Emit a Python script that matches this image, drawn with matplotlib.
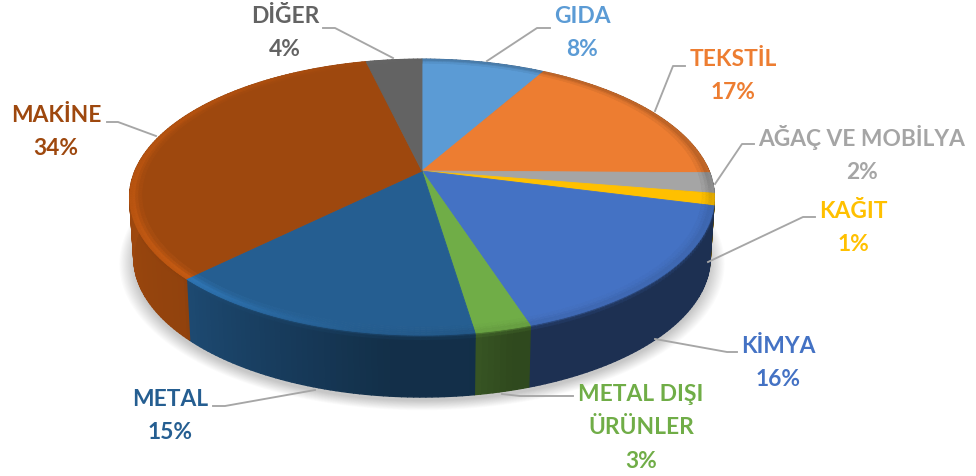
import numpy as np
import matplotlib
matplotlib.use("Agg")
import matplotlib.pyplot as plt
from matplotlib.collections import PolyCollection
from matplotlib.colors import to_rgb

categories = ["GIDA", "TEKSTİL", "AĞAÇ VE MOBİLYA", "KAĞIT", "KİMYA",
              "METAL DIŞI\nÜRÜNLER", "METAL", "MAKİNE", "DİĞER"]
shares = [8.2, 17.0, 2.4, 1.4, 16.0, 2.6, 15.0, 33.7, 3.7]
percent_labels = ["8%", "17%", "2%", "1%", "16%", "3%", "15%", "34%", "4%"]
colors = ["#5B9BD5", "#ED7D31", "#A5A5A5", "#FFC000", "#4472C4",
          "#70AD47", "#255E91", "#9E480E", "#636363"]
label_pos = [(582, 33), (733, 76), (862, 154), (853, 228), (778, 363),
             (641, 428), (170, 416), (56, 132), (285, 33)]
leaders = [
    [(487, 62), (537, 29), (550, 29)],
    [(655, 112), (673, 67), (685, 67)],
    [(715, 185), (742, 145), (754, 145)],
    [(708, 263), (803, 218), (815, 218)],
    [(655, 340), (727, 353), (737, 353)],
    [(502, 395), (520, 397), (573, 397)],
    [(315, 391), (225, 407), (213, 407)],
    [(156, 137), (118, 123), (107, 123)],
    [(393, 59), (335, 29), (323, 29)],
]

CX, CY, A, B, K, DEPTH = 422, 172, 133, 287, 0.19, 60


def top_xy(theta, r=1.0):
    x, y = r * np.sin(theta), r * np.cos(theta)
    s = 1 / (1 + K * y)
    return CX + B * x * s, CY - A * y * s


def wall_xy(theta, t):
    px, py = top_xy(theta)
    return CX + (px - CX) * (1 - 0.014 * t), py + DEPTH * t * (1 - 0.03 * np.cos(theta))


def scale(c, f):
    return tuple(np.clip(np.array(to_rgb(c)) * f, 0, 1))


def wall_shade(deg):
    return np.interp(deg, [90, 165, 172, 185, 225, 226, 250, 275, 300, 360],
                     [0.42, 0.42, 0.50, 0.50, 0.78, 0.92, 0.96, 1.02, 1.05, 1.05])


def rim_gain(deg):
    return np.interp(deg, [90, 105, 165, 190, 225, 270, 300, 360],
                     [0.80, 0.90, 0.92, 0.98, 1.24, 1.16, 1.14, 1.0])


fig = plt.figure(figsize=(9.76, 4.77), dpi=100, facecolor="white")
ax = fig.add_axes([0, 0, 1, 1])
ax.set_xlim(0, 976)
ax.set_ylim(477, 0)
ax.axis("off")

# soft shadow under the pie
grid = np.linspace(0, 2 * np.pi, 240)
sx, sy = wall_xy(grid, 1.0)
for g in np.linspace(1.05, 1.0, 14):
    ax.fill(CX + (sx - CX) * g, 212 + (sy - 212) * g + 4, color="black",
            alpha=0.016, lw=0, zorder=1)

edges = np.cumsum([0] + shares) / sum(shares) * 2 * np.pi
wall_polys, wall_cols, top_polys, top_cols = [], [], [], []
RINGS = [(1.0, 0.99, 0.9), (0.99, 0.98, 1.0), (0.98, 0.97, 0.6), (0.97, 0.96, 0.25)]
LEVELS = [(0, 0.04, 0.5), (0.04, 0.09, 0.15), (0.09, 1.0, 0.0)]

for i, color in enumerate(colors):
    a0, a1 = edges[i], edges[i + 1]
    n = max(3, int(np.degrees(a1 - a0)))
    steps = np.linspace(a0, a1, n + 1)
    # side wall
    for u, v in zip(steps[:-1], steps[1:]):
        deg = np.degrees((u + v) / 2)
        base = np.array(scale(color, wall_shade(deg)))
        rim = np.array(scale(color, 0.85))
        for t0, t1, mix in LEVELS:
            wall_polys.append(np.array([wall_xy(u, t0), wall_xy(v, t0), wall_xy(v, t1), wall_xy(u, t1)]))
            wall_cols.append(tuple(base * (1 - mix) + rim * mix))
    # flat top
    th = np.linspace(a0, a1, n * 2 + 1)
    px, py = top_xy(th, 0.96)
    top_polys.append(np.column_stack([np.r_[CX, px], np.r_[CY, py]]))
    top_cols.append(to_rgb(color))
    # bevel along the rim
    for u, v in zip(steps[:-1], steps[1:]):
        gain = rim_gain(np.degrees((u + v) / 2))
        for r0, r1, w in RINGS:
            f = 1 + (gain - 1) * w
            top_polys.append(np.array([top_xy(u, r0), top_xy(v, r0), top_xy(v, r1), top_xy(u, r1)]))
            top_cols.append(scale(color, f))

ax.add_collection(PolyCollection(wall_polys, facecolors=wall_cols, edgecolors=wall_cols,
                                 linewidths=1.0, zorder=2))
ax.add_collection(PolyCollection(top_polys, facecolors=top_cols, edgecolors=top_cols,
                                 linewidths=0.6, zorder=3))

# leader lines and labels
for pts in leaders:
    xs, ys = zip(*pts)
    ax.plot(xs, ys, color="#A6A6A6", lw=1.35, zorder=4, solid_joinstyle="round")

for name, pct, c, (x, y) in zip(categories, percent_labels, colors, label_pos):
    ax.text(x, y, f"{name}\n{pct}", color=c, ha="center", va="center", family="Lato",
            fontweight="bold", fontsize=16.4, linespacing=1.72, zorder=5)

fig.savefig("out.png", dpi=100, facecolor="white")
